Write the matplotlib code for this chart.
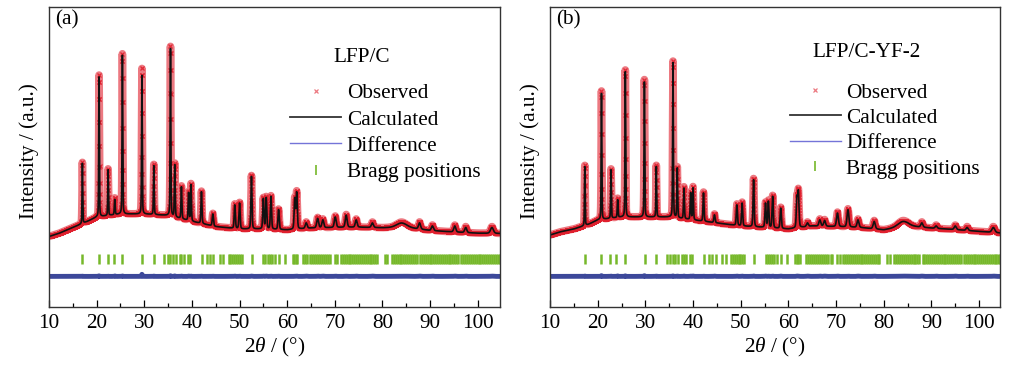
import numpy as np
import matplotlib
matplotlib.use("Agg")
import matplotlib.pyplot as plt
from matplotlib.lines import Line2D

plt.rcParams['font.family'] = ['Liberation Serif', 'DejaVu Serif']
plt.rcParams['mathtext.fontset'] = 'custom'
plt.rcParams['mathtext.it'] = 'Liberation Serif:italic'
plt.rcParams['mathtext.rm'] = 'Liberation Serif'

# ---- data (intensity in arbitrary units, 0..100 axis) ----
two_theta_step = 0.02

# background points
bg_x = [10, 12, 15, 18, 20, 25, 30, 35, 40, 45, 50, 55, 60, 65, 70, 75, 80, 85, 90, 95, 100, 105]
bg_a = [23.5, 24.5, 26.5, 28.5, 30.0, 31.0, 31.0, 30.5, 28.5, 26.8, 26.0, 26.0, 25.7, 26.3, 26.5, 26.6, 26.4, 26.5, 25.5, 25.0, 24.6, 24.5]
bg_b = [24.0, 25.0, 26.0, 27.5, 29.0, 30.0, 30.0, 30.0, 29.0, 28.0, 27.0, 26.5, 26.0, 27.0, 26.8, 26.5, 25.7, 27.0, 26.3, 25.8, 25.2, 24.6]

# peak positions, calculated tops, observed tops, widths (FWHM, deg)
peaks_a = [17.0, 20.5, 22.4, 23.8, 25.4, 29.5, 32.0, 35.5, 36.4, 37.8, 39.3, 39.8, 42.0, 44.4,
           49.0, 50.0, 52.5, 55.0, 55.6, 56.6, 58.2, 61.6, 62.0, 64.0, 66.4, 67.5, 70.1, 72.4,
           74.5, 77.9, 84.0, 87.8, 90.5, 95.2, 97.5, 103.0]
calc_a = [47.9, 76.7, 45.7, 35.8, 83.9, 77.2, 47.1, 86.1, 47.3, 40.0, 38.0, 40.7, 38.4, 31.0,
          34.0, 34.6, 43.5, 36.0, 36.3, 36.8, 32.4, 36.0, 38.0, 28.0, 29.5, 29.0, 30.0, 30.6,
          29.0, 28.0, 28.0, 28.0, 27.0, 27.0, 26.5, 26.5]
obs_a = [48.2, 77.3, 46.0, 36.3, 84.4, 79.5, 47.5, 86.8, 47.8, 40.3, 38.3, 41.0, 38.6, 31.2,
         34.3, 34.8, 43.8, 36.3, 36.6, 37.0, 32.6, 36.2, 38.3, 28.3, 29.8, 29.3, 30.3, 30.8,
         29.3, 28.3, 28.3, 28.3, 27.3, 27.3, 26.8, 26.8]
width_a = [0.16, 0.16, 0.17, 0.2, 0.17, 0.17, 0.18, 0.18, 0.2, 0.22, 0.22, 0.22, 0.24, 0.3,
           0.28, 0.28, 0.26, 0.28, 0.28, 0.28, 0.3, 0.3, 0.3, 0.45, 0.45, 0.45, 0.45, 0.45,
           0.45, 0.5, 2.5, 0.5, 0.5, 0.5, 0.5, 0.7]

peaks_b = [17.3, 20.8, 22.8, 24.2, 25.8, 29.8, 32.3, 35.8, 36.7, 38.1, 39.5, 40.0, 42.2, 44.5,
           49.2, 50.3, 52.7, 55.2, 55.8, 56.7, 58.4, 61.8, 62.1, 64.0, 66.6, 67.6, 70.3, 72.5,
           74.6, 78.0, 84.0, 88.0, 91.0, 95.0, 97.5, 103.0]
calc_b = [46.8, 71.2, 45.7, 35.7, 78.4, 75.0, 46.8, 81.4, 46.2, 39.6, 38.0, 39.6, 38.0, 30.7,
          34.0, 34.6, 42.4, 34.5, 35.1, 36.8, 32.9, 36.0, 38.0, 28.0, 29.0, 28.8, 31.3, 32.4,
          29.0, 28.5, 28.5, 28.0, 27.0, 27.0, 26.5, 26.5]
obs_b = [47.2, 72.0, 46.0, 36.2, 79.0, 75.8, 47.2, 81.9, 46.6, 40.0, 38.3, 40.0, 38.3, 31.0,
         34.3, 34.9, 42.8, 34.8, 35.4, 37.1, 33.2, 36.3, 38.4, 28.3, 29.3, 29.1, 31.6, 32.7,
         29.3, 28.8, 28.8, 28.3, 27.3, 27.3, 26.8, 26.8]
width_b = width_a

# Bragg reflection positions (panel a), zero shift for panel b
bragg = [17.0, 20.5, 22.3, 23.7, 25.4, 29.6, 32.0, 34.2, 35.0, 35.5, 36.0, 36.6, 37.4, 37.8,
         38.3, 39.2, 39.6, 42.1, 43.1, 43.7, 44.5, 45.9, 46.6, 47.7, 48.1, 48.5, 48.9, 49.3,
         49.7, 50.1, 50.5, 52.6, 55.0, 55.4, 56.0, 56.4, 56.8, 57.4, 58.2, 59.5, 61.2, 61.5,
         61.8, 62.1, 63.4, 63.8, 64.2, 64.7, 65.2, 65.6, 66.0, 66.4, 66.8, 67.3, 67.7, 68.1,
         68.6, 69.0, 70.0, 70.5, 71.3, 71.7, 72.1, 72.5, 72.9, 73.3, 73.7, 74.1, 74.5, 74.9,
         75.3, 75.7, 76.1, 76.5, 76.9, 77.3, 77.7, 78.1, 78.5, 78.8, 80.5, 81.0, 82.0, 82.4,
         82.8, 83.2, 83.6, 84.0, 84.4, 84.8, 85.2, 85.6, 86.0, 86.4, 86.8, 87.2, 87.9, 88.3,
         88.7, 89.1, 89.5, 89.9, 90.3, 90.7, 91.1, 91.5, 91.9, 92.3, 92.7, 93.1, 93.5, 93.9,
         94.3, 94.7, 95.1, 95.5, 95.9, 96.6, 97.0, 97.4, 97.8, 98.2, 98.6, 99.0, 99.4, 99.8,
         100.2, 100.6, 101.0, 101.4, 101.8, 102.2, 102.6, 103.0, 103.4, 103.8, 104.2, 104.6]
zero_shift = {'a': 0.0, 'b': 0.25}

panels = [
    dict(tag='(a)', name='LFP/C', bg=bg_a, pos=peaks_a, calc=calc_a, obs=obs_a, w=width_a,
         shift=zero_shift['a'], xmax=104.7),
    dict(tag='(b)', name='LFP/C-YF-2', bg=bg_b, pos=peaks_b, calc=calc_b, obs=obs_b, w=width_b,
         shift=zero_shift['b'], xmax=104.4),
]

diff_level = 10.2
bragg_level = 16.0
c_obs = '#e0202e'
c_calc = '#111111'
c_diff = '#27348f'
c_bragg = '#76b82a'
fs = 15.3


def profile(x, bgx, bgy, pos, tops, widths):
    # pseudo-Voigt peaks on top of the background
    bg = np.interp(x, bgx, bgy)
    y = bg.copy()
    for p, t, w in zip(pos, tops, widths):
        amp = t - np.interp(p, bgx, bgy)
        d = (x - p) / (w / 2)
        y += amp * (0.3 / (1 + d ** 2) + 0.7 * np.exp(-np.log(2) * d ** 2))
    return y


fig = plt.figure(figsize=(10.24, 3.68), dpi=100)
ax_rects = [[0.0479, 0.1658, 0.4404, 0.815], [0.5371, 0.1658, 0.4395, 0.815]]
leg_anchor = [(0.535, 0.745), (0.533, 0.748)]
leg_spacing = [0.30, 0.26]
title_pos = [(0.63, 0.833), (0.582, 0.847)]

for k, (p, rect) in enumerate(zip(panels, ax_rects)):
    ax = fig.add_axes(rect)
    x = np.arange(10, 105.001, two_theta_step)
    y_calc = profile(x, bg_x, p['bg'], p['pos'], p['calc'], p['w'])
    y_obs = profile(x, bg_x, p['bg'], p['pos'], p['obs'], p['w'])
    # observed points: dense crosses that merge into a red band
    ax.plot(x, y_obs, color=c_obs, lw=5.5, alpha=0.6, solid_capstyle='butt')
    ax.plot(x, y_obs, ls='none', marker='x', ms=3.5, mew=0.9, color=c_obs, alpha=0.9)
    ax.plot(x, y_calc, color=c_calc, lw=1.2)
    ax.plot(x, diff_level + 0.3 * (y_obs - y_calc), color=c_diff, lw=3.5, alpha=0.9)
    bx = np.array(bragg) + p['shift']
    ax.plot(bx, np.full(len(bx), bragg_level), ls='none', marker='|', ms=6.5, mew=1.8, color=c_bragg)

    ax.set_xlim(10, p['xmax'])
    ax.set_ylim(0, 100)
    ax.set_yticks([])
    ax.set_xticks(np.arange(10, 101, 10))
    ax.set_xticks(np.arange(15, 105, 10), minor=True)
    ax.tick_params(axis='x', which='both', direction='in', top=False, labelsize=fs, pad=5)
    ax.tick_params(axis='x', which='major', length=5, width=0.9)
    ax.tick_params(axis='x', which='minor', length=3, width=0.9)
    for s in ax.spines.values():
        s.set_linewidth(1.0)
        s.set_color('#333333')
    ax.set_xlabel(r'2$\it{\theta}$ / (°)', fontsize=fs, labelpad=2)
    ax.set_ylabel('Intensity / (a.u.)', fontsize=fs)
    ax.yaxis.set_label_coords(-0.022, 0.52)
    ax.text(0.013, 0.99, p['tag'], transform=ax.transAxes, ha='left', va='top', fontsize=fs)
    ax.text(*title_pos[k], p['name'], transform=ax.transAxes, ha='left', va='center', fontsize=fs)

    handles = [
        Line2D([], [], ls='none', marker='x', ms=3.5, mew=0.9, color=c_obs, alpha=0.6),
        Line2D([], [], color='#333333', lw=1.3),
        Line2D([], [], color='#7474d8', lw=1.0),
        Line2D([], [], ls='none', marker='|', ms=7, mew=1.2, color=c_bragg),
    ]
    ax.legend(handles, ['Observed', 'Calculated', 'Difference', 'Bragg positions'],
              loc='upper left', bbox_to_anchor=leg_anchor[k], frameon=False, fontsize=fs,
              handlelength=2.4, handletextpad=0.25, labelspacing=leg_spacing[k], borderpad=0,
              borderaxespad=0)

fig.savefig('out.png', dpi=100)
